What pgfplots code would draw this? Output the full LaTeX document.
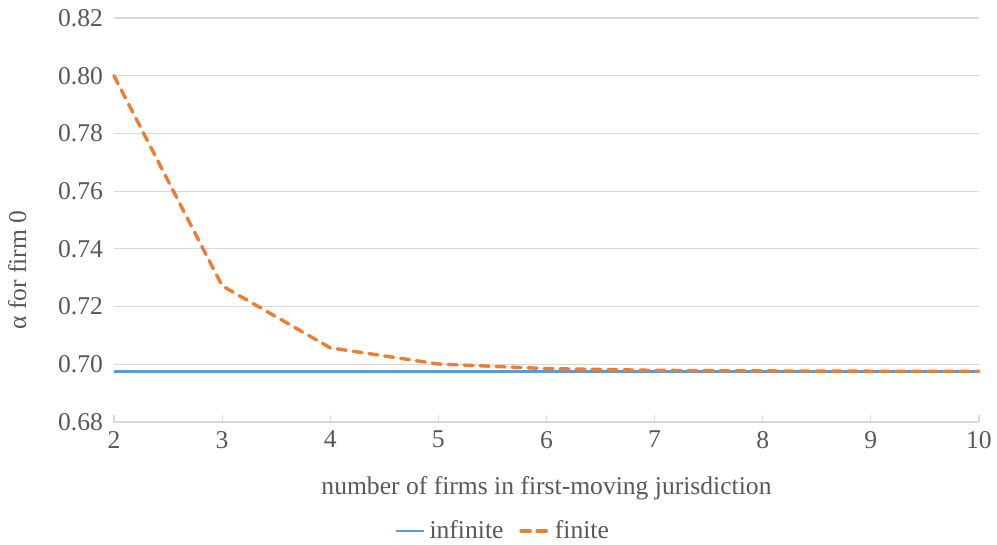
\documentclass[border=0pt]{standalone}
\usepackage{fontspec}
\setmainfont{Liberation Serif}
\usepackage{pgfplots}
\pgfplotsset{compat=1.18}
\usetikzlibrary{calc}
\definecolor{cblue}{HTML}{5B9BD5}
\definecolor{corange}{HTML}{ED7D31}
\definecolor{cgrid}{HTML}{D9D9D9}
\definecolor{ctext}{HTML}{595959}
\begin{document}
\begin{tikzpicture}
\begin{axis}[
  name=ax,
  scale only axis,
  width=432.5pt, height=202pt,
  xmin=2, xmax=10, ymin=0.68, ymax=0.82,
  xtick={2,...,10},
  ytick={0.68,0.70,...,0.82},
  /pgf/number format/assume math mode=true,
  yticklabel style={/pgf/number format/fixed,/pgf/number format/fixed zerofill,/pgf/number format/precision=2},
  tick label style={font=\fontsize{12.8}{15}\selectfont, text=ctext},
  xticklabel style={yshift=-1pt},
  yticklabel style={xshift=-2pt},
  axis x line*=bottom,
  axis y line*=left,
  x axis line style={cgrid, line width=0.8pt, -},
  y axis line style={draw=none},
  ytick style={draw=none},
  ymajorgrids,
  grid style={cgrid, line width=0.6pt},
  major tick length=3.5pt,
  xtick style={cgrid, line width=0.6pt},
  tick align=inside,
  xlabel={number of firms in first-moving jurisdiction},
  ylabel={α for firm 0},
  label style={font=\fontsize{12.8}{15}\selectfont, text=ctext},
  xlabel style={at={(axis description cs:0.5,-0.163)}, anchor=center},
  ylabel style={at={(axis description cs:-0.112,0.376)}, anchor=center},
  legend columns=2,
  legend style={draw=none, at={(axis description cs:0.451,-0.27)}, anchor=center,
    font=\fontsize{12.8}{15}\selectfont, text=ctext,
    /tikz/every even column/.append style={column sep=6pt}},
  legend image code/.code={\draw[#1] (0pt,0pt) -- (14pt,0pt);},
  clip=false,
]
\addplot[cblue, line width=1.1pt] coordinates {
(2,0.6975) (3,0.6975) (4,0.6975) (5,0.6975) (6,0.6975) (7,0.6975) (8,0.6975) (9,0.6975) (10,0.6975)};
\addlegendentry{infinite}
\addplot[corange, line width=1.7pt, dash pattern=on 4.5pt off 3.5pt, line cap=round, line join=round] coordinates {
(2,0.8000) (3,0.7272) (4,0.7057) (5,0.7001) (6,0.6985) (7,0.6979) (8,0.6977) (9,0.6976) (10,0.6976)};
\addlegendentry{finite}
\end{axis}
\pgfresetboundingbox
\useasboundingbox ($(ax.south west)+(-57pt,-61.5pt)$) rectangle ($(ax.north west)+(441.5pt,9pt)$);
\end{tikzpicture}
\end{document}
